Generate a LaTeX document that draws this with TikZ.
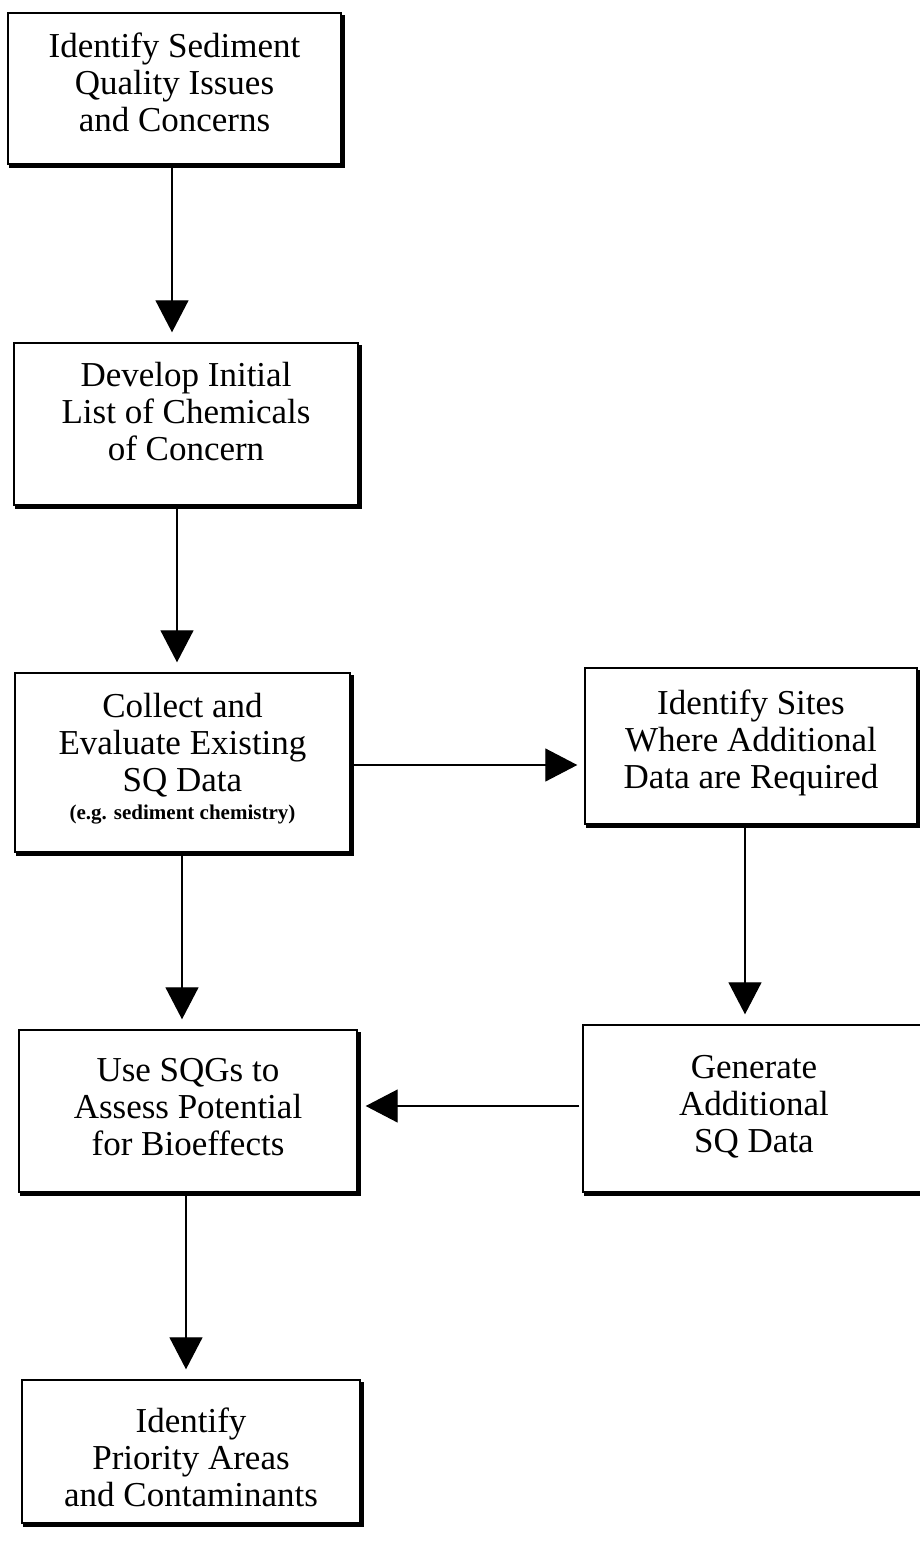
\documentclass[tikz,border=0pt]{standalone}
\usepackage{fontspec}
\setmainfont{Liberation Serif}
\usetikzlibrary{arrows.meta,calc}

\begin{document}
\begin{tikzpicture}[x=0.5pt,y=-0.5pt,
  stepbox/.style={draw, line width=0.7pt, rectangle, inner sep=0pt},
  boxtext/.style={inner sep=0pt, align=center,
    font=\fontsize{17.5pt}{18.5pt}\selectfont},
  boxshadow/.style={line width=2pt},
  flow/.style={line width=0.65pt, -{Triangle[width=16.5pt,length=16pt]},
    shorten <=1.5pt, shorten >=5pt}]

\useasboundingbox (0,0) rectangle (920,1543);
\fill[white] (0,0) rectangle (920,1543);

% process boxes
\node[stepbox, minimum width=166.5pt, minimum height=75.5pt] (b1) at (174.5,88.5) {};
\node[stepbox, minimum width=172pt, minimum height=81pt] (b2) at (186,424) {};
\node[stepbox, minimum width=167.5pt, minimum height=89.5pt] (b3) at (182.5,762.5) {};
\node[stepbox, minimum width=166pt, minimum height=78pt] (b4) at (751,746) {};
\node[stepbox, minimum width=169pt, minimum height=81pt] (b5) at (188,1111) {};
\node[stepbox, minimum width=171pt, minimum height=83.5pt] (b6) at (754,1108.5) {};
\node[stepbox, minimum width=169pt, minimum height=71.5pt] (b7) at (191,1451.5) {};

% box captions
\node[boxtext] (t1) at ([yshift=3.25pt]b1.center)
  {Identify Sediment\\Quality Issues\\and Concerns};
\node[boxtext] (t2) at ([yshift=6pt]b2.center)
  {Develop Initial\\List of Chemicals\\of Concern};
\node[boxtext] (t3) at ([yshift=1.75pt]b3.center)
  {Collect and\\Evaluate Existing\\SQ Data\\[-4.5pt]{\fontsize{10.5pt}{12pt}\bfseries\selectfont (e.g. sediment chemistry)}};
\node[boxtext] (t4) at ([yshift=1.75pt]b4.center)
  {Identify Sites\\Where Additional\\Data are Required};
\node[boxtext] (t5) at ([yshift=2pt]b5.center)
  {Use SQGs to\\Assess Potential\\for Bioeffects};
\node[boxtext] (t6) at ([yshift=1pt]b6.center)
  {Generate\\Additional\\SQ Data};
\node[boxtext] (t7) at ([yshift=-3pt]b7.center)
  {Identify\\Priority Areas\\and Contaminants};

% heavy lower and right edges
\foreach \b in {b1,b2,b3,b4,b5,b6,b7}
  \draw[boxshadow] ([xshift=1pt,yshift=-0.65pt]\b.south west)
    -- ([xshift=0.65pt,yshift=-0.65pt]\b.south east)
    -- ([xshift=0.65pt,yshift=-1.5pt]\b.north east);

% guide positions for the connectors
\coordinate (x1) at (172,0);
\coordinate (x2) at (177,0);
\coordinate (x4) at (182,0);
\coordinate (x5) at (745,0);
\coordinate (x7) at (186,0);
\coordinate (y3) at (0,765);
\coordinate (y6) at (0,1106);

% connectors
\draw[flow] (b1.south -| x1) -- (b2.north -| x1);
\draw[flow] (b2.south -| x2) -- (b3.north -| x2);
\draw[flow, shorten >=3.5pt] (b3.east |- y3) -- (b4.west |- y3);
\draw[flow] (b3.south -| x4) -- (b5.north -| x4);
\draw[flow] (b4.south -| x5) -- (b6.north -| x5);
\draw[flow, shorten >=4pt] (b6.west |- y6) -- (b5.east |- y6);
\draw[flow] (b5.south -| x7) -- (b7.north -| x7);

\end{tikzpicture}
\end{document}
